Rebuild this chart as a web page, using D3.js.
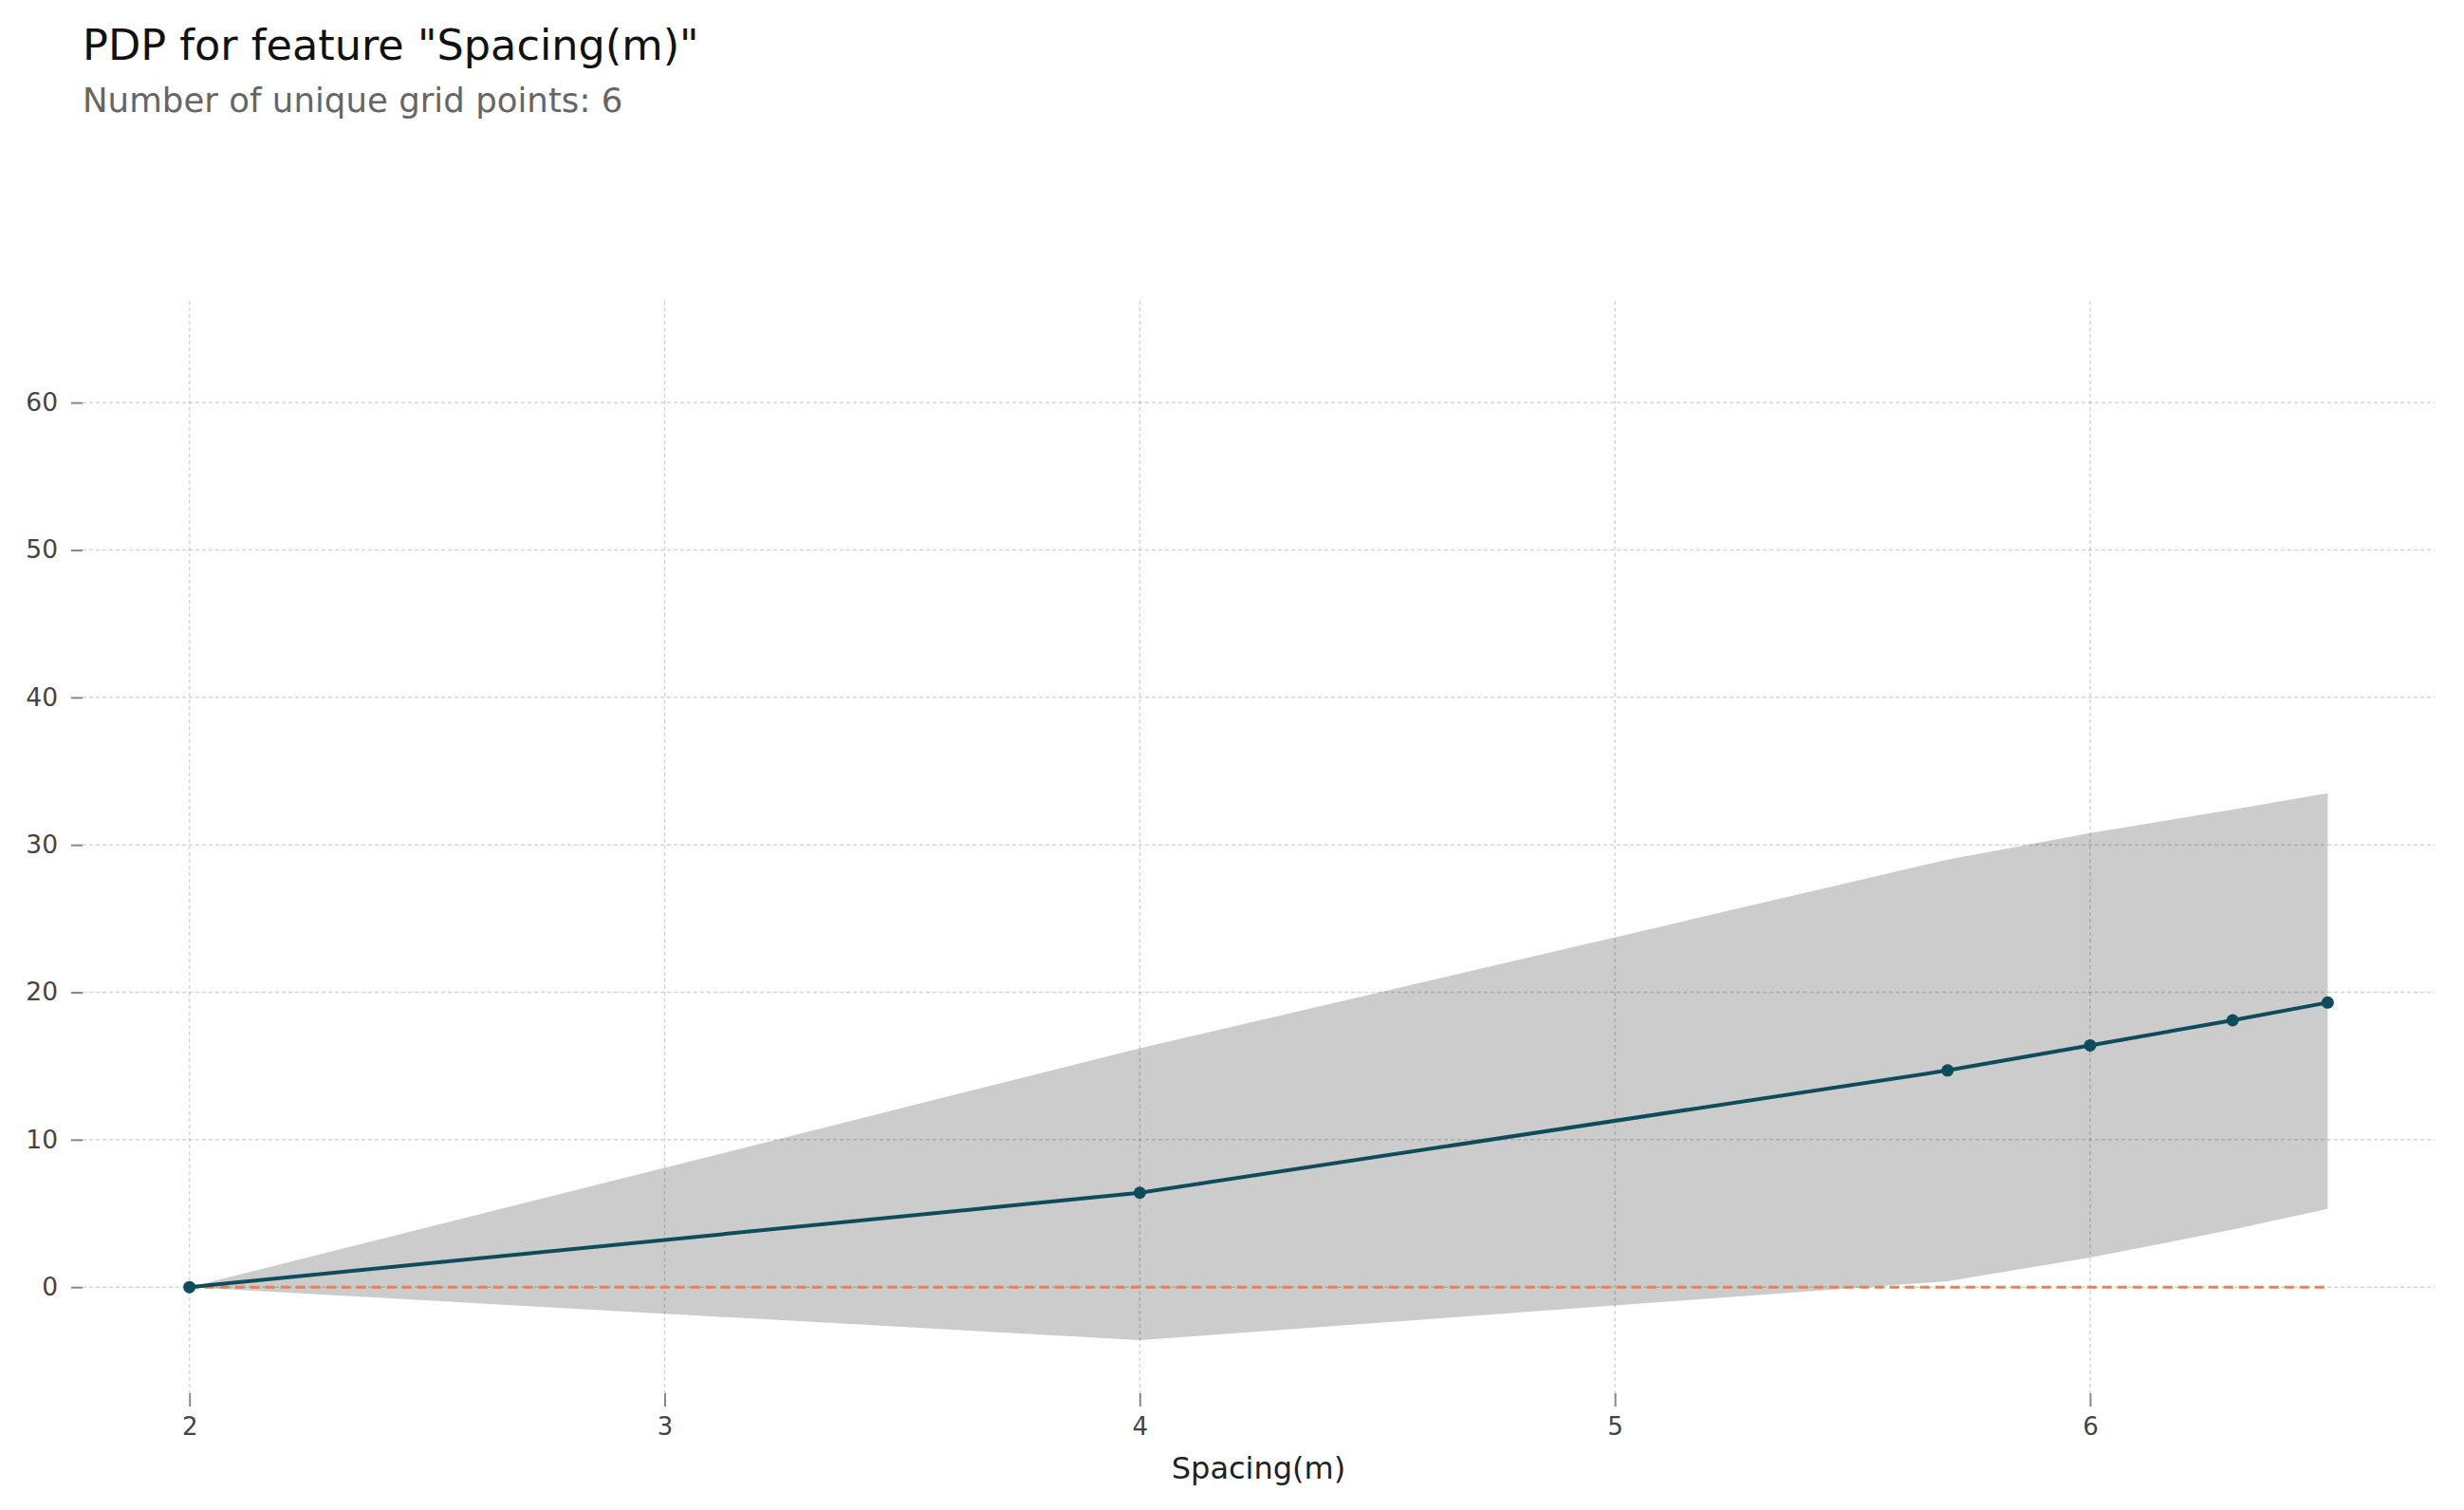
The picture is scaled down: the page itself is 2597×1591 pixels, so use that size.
<!DOCTYPE html>
<html>
<head>
<meta charset="utf-8">
<script src="https://cdn.jsdelivr.net/npm/d3@7/dist/d3.min.js"></script>
<style>
  html, body { margin: 0; padding: 0; background: #fff; }
  svg { display: block; font-family: "DejaVu Sans", sans-serif; }
</style>
</head>
<body>
<script>
// ---- data ----
const featureName = "Spacing(m)";
const gridPoints = [2, 4, 5.7, 6, 6.3, 6.5];
const pdpValues = [0, 6.4, 14.7, 16.4, 18.1, 19.3];
const upperValues = [0, 16.2, 29.0, 30.8, 32.4, 33.5];
const lowerValues = [0, -3.6, 0.4, 2.0, 3.9, 5.3];
const xTickValues = [2, 3, 4, 5, 6];
const yTickValues = [0, 10, 20, 30, 40, 50, 60];
const titleText = 'PDP for feature "Spacing(m)"';
const subtitleText = "Number of unique grid points: 6";

// ---- layout ----
const W = 2597, H = 1591;
const plot = { left: 87, right: 2566, top: 317, bottom: 1468 };

const svg = d3.select("body").append("svg").attr("width", W).attr("height", H);

const x = d3.scaleLinear().domain([1.775, 6.725]).range([plot.left, plot.right]);
const y = d3.scaleLinear().domain([-7.2, 66.9]).range([plot.bottom, plot.top]);

// titles
svg.append("text").attr("x", 87).attr("y", 63)
  .attr("font-size", 44.6).attr("fill", "#111").text(titleText);
svg.append("text").attr("x", 87).attr("y", 118)
  .attr("font-size", 35.6).attr("fill", "#666").text(subtitleText);

const data = gridPoints.map((g, i) => ({ x: g, pdp: pdpValues[i], lo: lowerValues[i], hi: upperValues[i] }));

// confidence band
svg.append("path").datum(data)
  .attr("fill", "#cccccc")
  .attr("d", d3.area().x(d => x(d.x)).y0(d => y(d.lo)).y1(d => y(d.hi)));

// grid lines
const gGrid = svg.append("g");
gGrid.selectAll("line.hg").data(yTickValues).join("line")
  .attr("x1", plot.left).attr("x2", plot.right)
  .attr("y1", d => y(d)).attr("y2", d => y(d))
  .attr("stroke", "#000").attr("stroke-opacity", 0.16)
  .attr("stroke-width", 1.5).attr("stroke-dasharray", "4,3");
gGrid.selectAll("line.vg").data(xTickValues).join("line")
  .attr("y1", plot.top).attr("y2", plot.bottom)
  .attr("x1", d => x(d)).attr("x2", d => x(d))
  .attr("stroke", "#000").attr("stroke-opacity", 0.16)
  .attr("stroke-width", 1.5).attr("stroke-dasharray", "4,3");

// axes
const xAxis = d3.axisBottom(x).tickValues(xTickValues).tickFormat(d3.format("d")).tickSize(14).tickPadding(12);
const gx = svg.append("g").attr("transform", `translate(0,${plot.bottom})`).call(xAxis);
gx.select(".domain").remove();
gx.selectAll(".tick line").attr("stroke", "#888").attr("stroke-width", 2);
gx.selectAll(".tick text").attr("font-size", 26).attr("fill", "#444").attr("font-family", "DejaVu Sans");

const yAxis = d3.axisLeft(y).tickValues(yTickValues).tickFormat(d3.format("d")).tickSize(12).tickPadding(14);
const gy = svg.append("g").attr("transform", `translate(${plot.left},0)`).call(yAxis);
gy.select(".domain").remove();
gy.selectAll(".tick line").attr("stroke", "#888").attr("stroke-width", 2);
gy.selectAll(".tick text").attr("font-size", 26.5).attr("fill", "#444").attr("font-family", "DejaVu Sans");

// x axis label
svg.append("text").attr("x", (plot.left + plot.right) / 2).attr("y", 1558)
  .attr("text-anchor", "middle").attr("font-size", 32).attr("fill", "#222").text(featureName);

// zero reference line
svg.append("path").datum(data)
  .attr("fill", "none").attr("stroke", "#f7775a").attr("stroke-width", 3)
  .attr("stroke-dasharray", "10,6")
  .attr("d", d3.line().x(d => x(d.x)).y(() => y(0)));

// pdp line
svg.append("path").datum(data)
  .attr("fill", "none").attr("stroke", "#0e4c5c").attr("stroke-width", 4)
  .attr("d", d3.line().x(d => x(d.x)).y(d => y(d.pdp)));

svg.selectAll("circle.pt").data(data).join("circle")
  .attr("cx", d => x(d.x)).attr("cy", d => y(d.pdp)).attr("r", 6.5)
  .attr("fill", "#0e4c5c");
</script>
</body>
</html>
